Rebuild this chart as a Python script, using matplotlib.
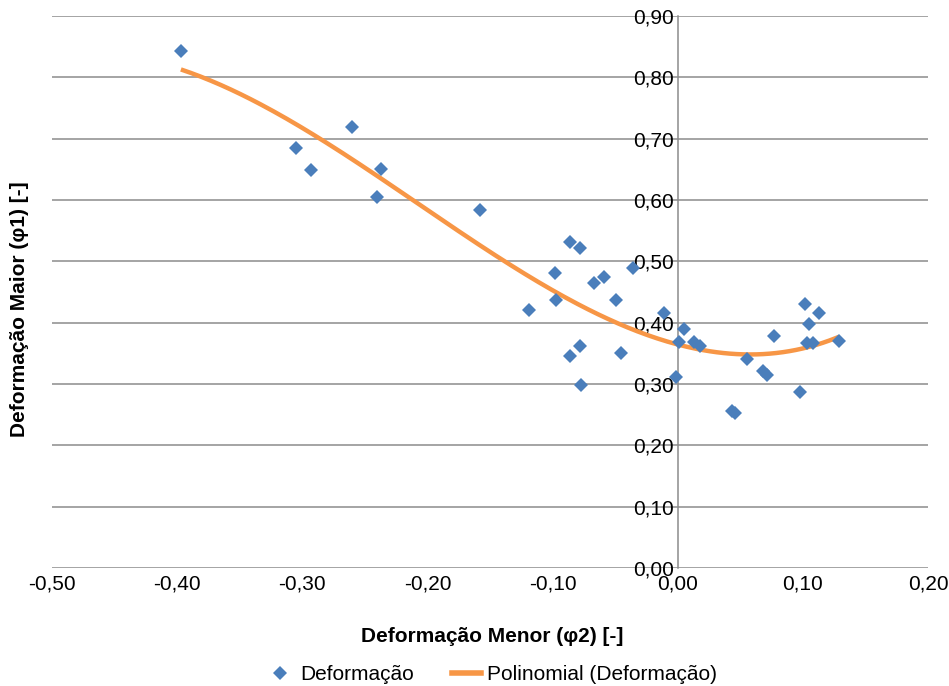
import matplotlib
matplotlib.use("Agg")
import matplotlib.pyplot as plt
import numpy as np
from matplotlib.lines import Line2D

# ---------------------------------------------------------------------
# Data (minor strain phi2, major strain phi1)
# ---------------------------------------------------------------------
phi2 = [-0.397, -0.305, -0.293, -0.260, -0.237, -0.240, -0.158, -0.119,
        -0.098, -0.097, -0.086, -0.078, -0.086, -0.078, -0.077, -0.067,
        -0.059, -0.049, -0.045, -0.036, -0.011, -0.001, 0.001, 0.005,
        0.013, 0.018, 0.055, 0.043, 0.046, 0.068, 0.071, 0.077, 0.098,
        0.102, 0.105, 0.113, 0.103, 0.108, 0.129]
phi1 = [0.843, 0.685, 0.649, 0.719, 0.651, 0.605, 0.584, 0.421,
        0.481, 0.437, 0.532, 0.522, 0.346, 0.362, 0.298, 0.465,
        0.474, 0.437, 0.351, 0.489, 0.416, 0.311, 0.369, 0.390,
        0.369, 0.362, 0.341, 0.256, 0.253, 0.321, 0.315, 0.378, 0.287,
        0.430, 0.398, 0.416, 0.367, 0.367, 0.370]

x_ticks = [-0.5, -0.4, -0.3, -0.2, -0.1, 0.0, 0.1, 0.2]
y_ticks = [0.0, 0.1, 0.2, 0.3, 0.4, 0.5, 0.6, 0.7, 0.8, 0.9]

SERIES_LABEL = "Deformação"
TREND_LABEL = "Polinomial (Deformação)"
X_LABEL = "Deformação Menor (φ2) [-]"
Y_LABEL = "Deformação Maior (φ1) [-]"

BLUE = "#4A7EBB"
ORANGE = "#F79646"
GRID = "#8C8C8C"

plt.rcParams["font.family"] = ["Liberation Sans", "DejaVu Sans"]

fig = plt.figure(figsize=(9.49, 6.86), dpi=100)
ax = fig.add_axes([52 / 949, 1 - 568 / 686, 876 / 949, 552 / 686])

# Excel style 3rd order polynomial trendline
coef = np.polyfit(phi2, phi1, 3)
xs = np.linspace(min(phi2), max(phi2), 200)
ax.plot(xs, np.polyval(coef, xs), color=ORANGE, lw=3.2, zorder=3,
        solid_capstyle="butt")

ax.plot(phi2, phi1, linestyle="none", marker="D", markersize=7.5,
        color=BLUE, markeredgewidth=0, zorder=4)

ax.set_xlim(-0.5, 0.2)
ax.set_ylim(0.0, 0.9)
ax.set_xticks(x_ticks)
ax.set_yticks(y_ticks)
ax.set_xticklabels([f"{v:.2f}".replace(".", ",") for v in x_ticks])
ax.set_yticklabels([f"{v:.2f}".replace(".", ",") for v in y_ticks])

ax.grid(True, axis="y", color=GRID, lw=1.1)
ax.set_axisbelow(True)

for s in ["top", "right", "bottom"]:
    ax.spines[s].set_visible(False)
ax.spines["left"].set_position(("data", 0))
ax.spines["left"].set_color(GRID)
ax.spines["left"].set_linewidth(1.1)

ax.tick_params(axis="x", length=0, pad=5, labelsize=15)
ax.tick_params(axis="y", length=0, pad=3, labelsize=15)

fig.text(492 / 949, 1 - 637 / 686, X_LABEL, ha="center", va="center",
         fontsize=15, fontweight="bold")
fig.text(20 / 949, 1 - 309 / 686, Y_LABEL, ha="center", va="center",
         rotation=90, fontsize=15, fontweight="bold")

handles = [
    Line2D([], [], linestyle="none", marker="D", markersize=7.5, color=BLUE,
           markeredgewidth=0),
    Line2D([], [], color=ORANGE, lw=4),
]
fig.legend(handles, [SERIES_LABEL, TREND_LABEL], loc="center", ncol=2,
           bbox_to_anchor=(491 / 949, 1 - 675 / 686), frameon=False,
           fontsize=15, handlelength=1.4, handletextpad=0.3,
           columnspacing=1.8, borderaxespad=0)

fig.savefig("out.png", dpi=100)
